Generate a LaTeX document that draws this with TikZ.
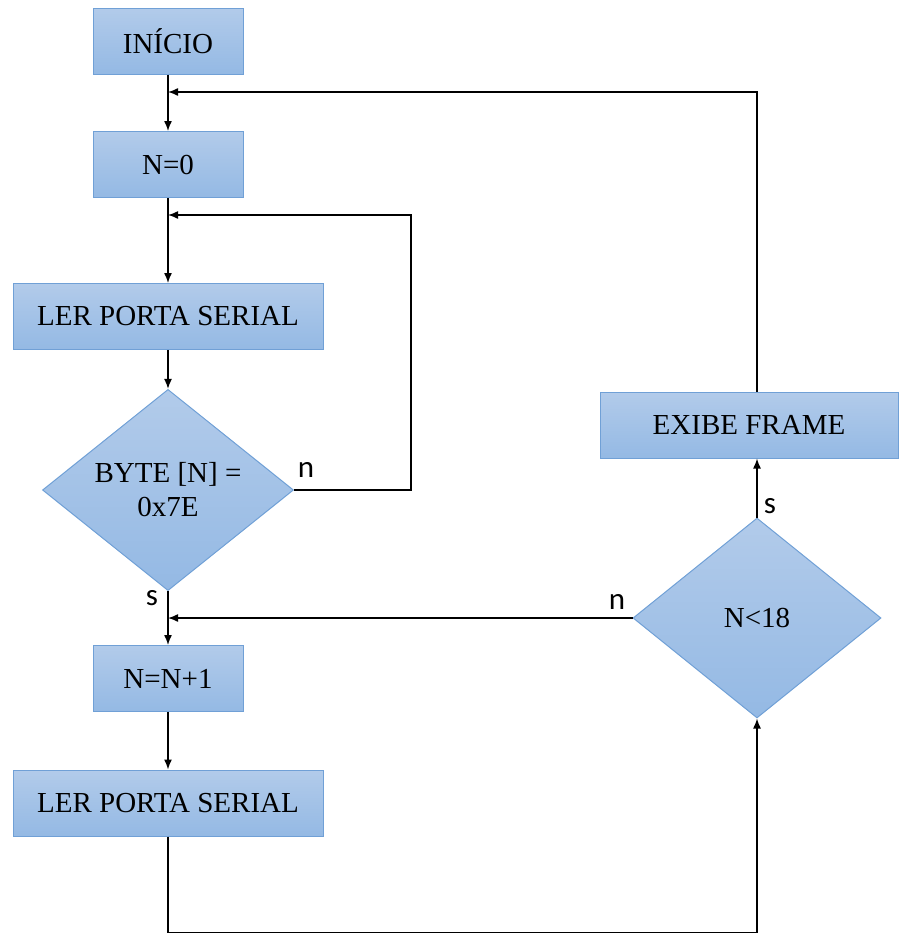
\documentclass[tikz,border=0pt]{standalone}
\usepackage{fontspec}
\setmainfont{Liberation Serif}
\newfontfamily\lblfont{Carlito}
\usetikzlibrary{shapes.geometric,arrows.meta}
\definecolor{boxtop}{RGB}{178,203,234}
\definecolor{boxbot}{RGB}{148,185,228}
\definecolor{boxline}{RGB}{112,160,214}
\begin{document}
\begin{tikzpicture}[x=1pt,y=-1pt,
  every node/.style={font=\fontsize{29}{34}\selectfont},
  procbox/.style={draw=boxline,line width=1pt,top color=boxtop,bottom color=boxbot,minimum height=66pt,inner sep=0pt},
  decision/.style={diamond,draw=boxline,line width=1pt,top color=boxtop,bottom color=boxbot,inner sep=0pt,align=center},
  lbl/.style={font=\lblfont\fontsize{31}{36}\selectfont,inner sep=0pt},
  arr/.style={-{Latex[length=10pt,width=8pt]},line width=1.4pt}]
\useasboundingbox (0,0) rectangle (901,935);
% Left column
\node[procbox,minimum width=150pt] (inicio) at (168,41) {INÍCIO};
\node[procbox,minimum width=150pt] (n0) at (168,164.5) {N=0};
\node[procbox,minimum width=310pt] (ler1) at (168,316.5) {LER PORTA SERIAL};
\node[decision,minimum width=251pt,minimum height=200pt] (d1) at (168,490) {BYTE [N] =\\0x7E};
\node[procbox,minimum width=150pt] (nn1) at (168,678.5) {N=N+1};
\node[procbox,minimum width=310pt] (ler2) at (168,803) {LER PORTA SERIAL};
% Right column
\node[decision,minimum width=248pt,minimum height=200pt] (d2) at (757,618) {N<18};
\node[procbox,minimum width=298pt] (exibe) at (749,425) {EXIBE FRAME};
% Labels
\node[lbl] (ln1) at (306,470) {n};
\node[lbl] (ls1) at (152,598) {s};
\node[lbl] (ls2) at (770,506) {s};
\node[lbl] (ln2) at (617,602) {n};
% Junctions
\coordinate (j1) at (168,92);
\coordinate (j2) at (168,215);
\coordinate (j3) at (168,618);
% Connectors
\draw[arr] (inicio) -- (n0);
\draw[arr] (n0) -- (ler1);
\draw[arr] (ler1) -- (d1);
\draw[arr] (d1.south) -- (nn1);
\draw[arr] (nn1) -- (ler2);
\draw[arr] (d1.east) -- ++(117,0) |- (j2);
\draw[arr] (d2.west) -- (j3);
\draw[arr] (ler2.south) -- ++(0,96) -| (d2.south);
\draw[arr] (d2.north) -- (d2.north |- exibe.south);
\draw[arr] (d2.north |- exibe.north) |- (j1);
\end{tikzpicture}
\end{document}
